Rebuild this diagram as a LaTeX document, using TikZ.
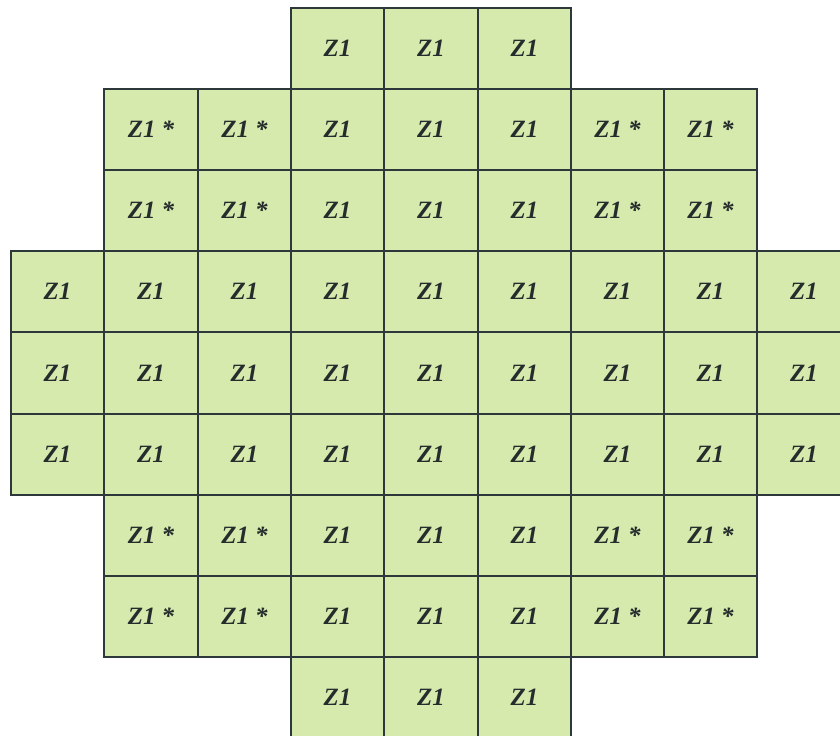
\documentclass[tikz,border=0pt]{standalone}
\usepackage{fontspec}
\setmainfont{Liberation Serif}
\definecolor{cellfill}{RGB}{214,234,174}
\definecolor{cellline}{RGB}{45,56,58}
\definecolor{celltext}{RGB}{38,44,44}
\tikzset{
  cell/.style={fill=cellfill, rectangle, inner sep=0pt, outer sep=0pt,
    text=celltext, font=\fontsize{25}{30}\selectfont\bfseries\itshape},
  cellborder/.style={draw=cellline, line width=1.8bp}
}
\begin{document}
\begin{tikzpicture}[x=1bp,y=-1bp]
\useasboundingbox (0,0) rectangle (840,736);
\clip (0,0) rectangle (840,736);
\foreach \r/\a/\b in {1/4/6,2/2/8,3/2/8,4/1/9,5/1/9,6/1/9,7/2/8,8/2/8,9/4/6}{
  \foreach \c in {\a,...,\b}{
    \pgfmathtruncatemacro{\xl}{round(11+93.3*(\c-1))}
    \pgfmathtruncatemacro{\xr}{round(11+93.3*\c)}
    \pgfmathtruncatemacro{\yt}{round(8+81.1*(\r-1))}
    \pgfmathtruncatemacro{\yb}{round(8+81.1*\r)}
    \pgfmathsetmacro{\cx}{(\xl+\xr)/2}
    \pgfmathsetmacro{\cy}{(\yt+\yb)/2}
    \pgfmathsetmacro{\cw}{\xr-\xl}
    \pgfmathsetmacro{\ch}{\yb-\yt}
    \pgfmathtruncatemacro{\star}{((\r==2||\r==3||\r==7||\r==8)&&(\c<4||\c>6))?1:0}
    \ifnum\star=1
      \node[cell, minimum width=\cw bp, minimum height=\ch bp] (c-\r-\c) at (\cx,\cy) {Z1 *};
    \else
      \node[cell, minimum width=\cw bp, minimum height=\ch bp] (c-\r-\c) at (\cx,\cy) {Z1};
    \fi
  }
}
\foreach \r/\a/\b in {1/4/6,2/2/8,3/2/8,4/1/9,5/1/9,6/1/9,7/2/8,8/2/8,9/4/6}{
  \foreach \c in {\a,...,\b}{
    \draw[cellborder] (c-\r-\c.north west) rectangle (c-\r-\c.south east);
  }
}
\end{tikzpicture}
\end{document}
